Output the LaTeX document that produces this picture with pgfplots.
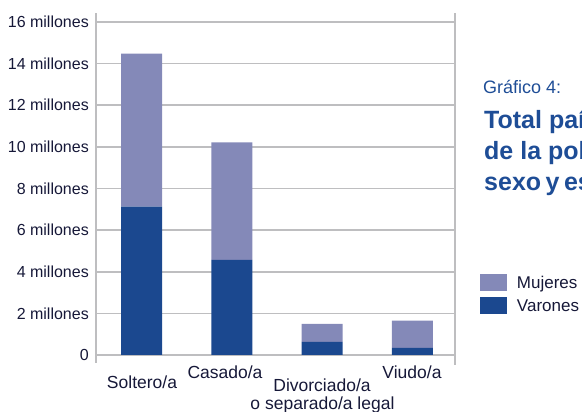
\documentclass[border=0pt]{standalone}
\usepackage{fontspec}
\setmainfont{Liberation Sans}
\usepackage{pgfplots}
\pgfplotsset{compat=1.18}
\definecolor{mujer}{RGB}{132,137,184}
\definecolor{varon}{RGB}{27,72,143}
\definecolor{txt}{RGB}{22,24,56}
\definecolor{gridc}{RGB}{190,190,192}
\definecolor{titc}{RGB}{30,77,150}
\pgfplotsset{swatch/.style={legend image code/.code={\fill[##1,/tikz/.cd,draw=none] (0pt,-8.5pt) rectangle (27pt,8.5pt);}}}
\begin{document}
\begin{tikzpicture}
\begin{axis}[
  name=ax,
  scale only axis, width=359pt, height=333pt,
  xmin=-0.506, xmax=3.472, ymin=0, ymax=16,
  ybar stacked, bar width=41pt,
  axis line style={draw=none},
  tick style={draw=none}, major tick length=0pt,
  xtick=\empty,
  ytick={0,2,...,16},
  yticklabels={0,2 millones,4 millones,6 millones,8 millones,10 millones,12 millones,14 millones,16 millones},
  yticklabel style={font=\fontsize{16}{18}\selectfont, text=txt, inner sep=0pt, xshift=-7pt},
  ymajorgrids, grid style={draw=gridc, line width=1.6pt},
  clip=false,
  reverse legend,
  legend cell align=left,
  legend style={at={(1.0696,0.2432)}, anchor=north west, draw=none, fill=none,
    inner sep=0pt, outer sep=0pt, row sep=6pt, column sep=10pt,
    font=\fontsize{17}{19}\selectfont, text=txt,
    nodes={inner sep=0pt, text height=12.4pt, text depth=0pt}},
]
\addplot[fill=varon, draw=none, swatch]
  coordinates {(0,7.13) (1,4.57) (2,0.63) (3,0.34)};
\addlegendentry{Varones}
\addplot[fill=mujer, draw=none, swatch]
  coordinates {(0,7.35) (1,5.65) (2,0.87) (3,1.31)};
\addlegendentry{Mujeres}
\draw[gridc, line width=1.4pt] (rel axis cs:0,-0.024) -- (rel axis cs:0,1.028);
\draw[gridc, line width=1.4pt] (rel axis cs:1,-0.03) -- (rel axis cs:1,1.028);
\end{axis}
\begin{scope}[shift={(ax.south west)}, xshift=-96pt, yshift=-57pt, x=1pt, y=1pt]
\begin{scope}[every node/.style={font=\fontsize{17.5}{20}\selectfont, text=txt, anchor=base, inner sep=0pt}]
\node at (142,23) {Soltero/a};
\node at (225,33) {Casado/a};
\node at (322,20) {Divorciado/a};
\node at (322.5,2) {o separado/a legal};
\node at (412,33) {Viudo/a};
\end{scope}
\begin{scope}[every node/.style={text=titc, anchor=base west, inner sep=0pt}]
\node[font=\fontsize{18}{20}\selectfont] at (483,318) {Gráfico 4:};
\node[font=\fontsize{25}{29}\selectfont\bfseries] at (484,283) {Total país};
\node[font=\fontsize{25}{29}\selectfont\bfseries] at (484,252) {de la población};
\node[font=\fontsize{25}{29}\selectfont\bfseries] at (484,221) {sexo\hspace{4.5pt}y\hspace{4.5pt}estado};
\end{scope}
\pgfresetboundingbox
\path[use as bounding box] (0,0) rectangle (582,412);
\end{scope}
\end{tikzpicture}
\end{document}
